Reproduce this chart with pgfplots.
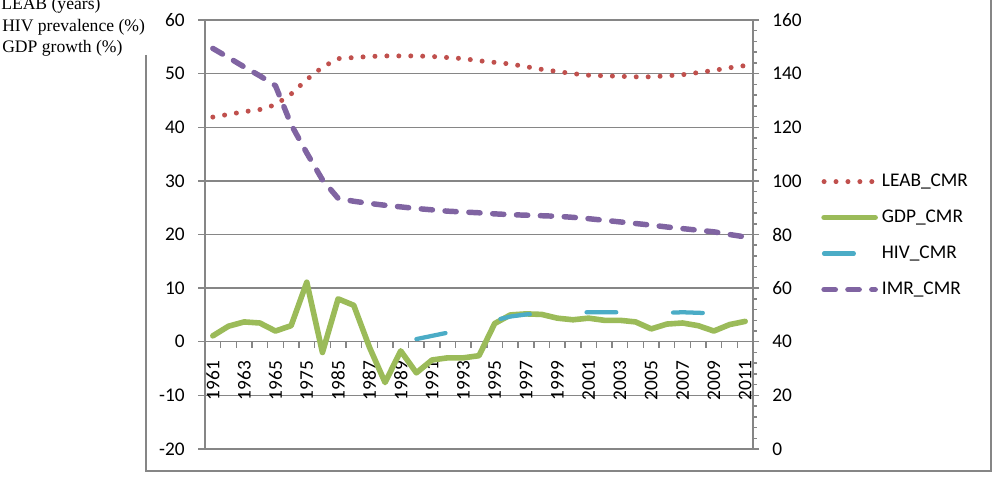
\documentclass[border=0pt]{standalone}
\usepackage{fontspec}
\setmainfont{Carlito}
\newfontfamily\titlefont{Liberation Serif}
\usepackage{pgfplots}
\usepackage{pgfplotstable}
\pgfplotsset{compat=1.18}

\definecolor{leabc}{HTML}{C0504D}
\definecolor{gdpc}{HTML}{9BBB59}
\definecolor{hivc}{HTML}{4BACC6}
\definecolor{imrc}{HTML}{8064A2}
\definecolor{gridc}{RGB}{134,134,134}

\newcommand{\ticksize}{\fontsize{14.5pt}{17pt}\selectfont}

\tikzset{
  leab/.style={draw=leabc, line width=3.75pt, line cap=round, dash pattern=on 0pt off 8.95pt},
  gdp/.style={draw=gdpc, line width=4.2pt, line cap=round, line join=round},
  hiv/.style={draw=hivc, line width=3.2pt, line cap=round, dash pattern=on 22.3pt off 42.6pt},
  imr/.style={draw=imrc, line width=4.1pt, line cap=round, line join=round, dash pattern=on 8.4pt off 9.5pt},
}

% index: 0-4 = 1961-1965, 5 = 1970, 6 = 1975, 7 = 1980, 8-34 = 1985-2011
\pgfplotstableread{
i val
0 41.9
1 42.4
2 42.9
3 43.3
4 44.2
5 46.2
6 48.9
7 51.2
8 52.8
9 53.0
10 53.2
11 53.3
12 53.3
13 53.3
14 53.2
15 53.0
16 52.8
17 52.4
18 52.1
19 51.8
20 51.3
21 50.8
22 50.4
23 50.0
24 49.7
25 49.6
26 49.5
27 49.4
28 49.4
29 49.6
30 49.8
31 50.2
32 50.6
33 51.1
34 51.5
}\leabdata

\pgfplotstableread{
i val
0 1.1
1 2.9
2 3.7
3 3.5
4 2.0
5 3.0
6 11.1
7 -2.0
8 8.0
9 6.8
10 -1.0
11 -7.6
12 -1.7
13 -5.8
14 -3.4
15 -3.0
16 -3.0
17 -2.6
18 3.4
19 5.0
20 5.2
21 5.1
22 4.4
23 4.1
24 4.4
25 4.0
26 4.0
27 3.7
28 2.4
29 3.3
30 3.5
31 3.0
32 2.0
33 3.2
34 3.8
}\gdpdata

\pgfplotstableread{
i val
13 0.5
14 1.1
15 1.7
16 2.4
17 3.2
18 4.0
19 4.7
20 5.1
21 5.2
22 5.4
23 5.5
24 5.5
25 5.5
26 5.5
27 5.5
28 5.4
29 5.4
30 5.5
31 5.4
32 5.3
33 5.2
34 5.1
}\hivdata

\pgfplotstableread{
i val
0 149.4
1 146.0
2 142.5
3 139.2
4 135.5
5 121.0
6 110.4
7 100.4
8 93.5
9 92.4
10 91.6
11 90.9
12 90.3
13 89.7
14 89.2
15 88.7
16 88.4
17 88.1
18 87.7
19 87.4
20 87.2
21 87.0
22 86.8
23 86.4
24 85.9
25 85.3
26 84.7
27 84.1
28 83.5
29 82.8
30 82.2
31 81.6
32 81.0
33 80.0
34 79.1
}\imrdata

\begin{document}
\begin{tikzpicture}
\path[use as bounding box] (0,0) rectangle (751.5pt,367.5pt);

% chart frame
\draw[gridc, line width=1.2pt] (109.5pt,326.25pt) -- (109.5pt,14.25pt) -- (743.25pt,14.25pt) -- (743.25pt,372pt);

% left-hand axis titles
\node[anchor=base west, inner sep=0pt, font=\titlefont\fontsize{13.2pt}{15pt}\selectfont] at (0.75pt,360.4pt) {LEAB (years)};
\node[anchor=base west, inner sep=0pt, font=\titlefont\fontsize{13.2pt}{15pt}\selectfont] at (1.5pt,343.9pt) {HIV prevalence (\%)};
\node[anchor=base west, inner sep=0pt, font=\titlefont\fontsize{13.2pt}{15pt}\selectfont] at (1.5pt,327.75pt) {GDP growth (\%)};

\begin{axis}[
  at={(153.75pt,30.75pt)}, anchor=south west,
  scale only axis, width=411pt, height=321.75pt,
  xmin=-0.5, xmax=34.5, ymin=-20, ymax=60,
  axis x line=middle, axis y line=left,
  axis line style={-, draw=gridc, line width=1.1pt},
  hide obscured x ticks=false, hide obscured y ticks=false,
  xtick={0,2,...,34},
  xticklabels={1961,1963,1965,1975,1985,1987,1989,1991,1993,1995,1997,1999,2001,2003,2005,2007,2009,2011},
  minor xtick={-0.5,0.5,...,34.5},
  major x tick style={draw=none},
  minor x tick style={draw=gridc, line width=1.1pt},
  minor tick length=4.5pt, major tick length=5.25pt,
  tick align=outside,
  ytick={-20,-10,...,60},
  y tick style={draw=gridc, line width=1.1pt},
  ymajorgrids, major grid style={draw=gridc, line width=1.1pt},
  tick label style={font=\ticksize, text=black},
  xticklabel style={yshift=-9pt, rotate=90, anchor=east, inner sep=0pt},
  yticklabel style={xshift=-9.75pt, anchor=east, inner sep=0pt},
  /pgf/number format/assume math mode=true,
  clip=false,
]
\addplot[leab] table[x=i, y=val] {\leabdata};
\addplot[gdp] table[x=i, y=val] {\gdpdata};
\addplot[hiv] table[x=i, y=val] {\hivdata};
\end{axis}

\begin{axis}[
  at={(153.75pt,30.75pt)}, anchor=south west,
  scale only axis, width=411pt, height=321.75pt,
  xmin=-0.5, xmax=34.5, ymin=0, ymax=160,
  axis x line=none, axis y line*=right,
  axis line style={-, draw=gridc, line width=1.1pt},
  ytick={0,20,...,160},
  minor ytick={4,8,...,156},
  tick align=outside,
  major tick length=4.5pt, minor tick length=2.8pt,
  y tick style={draw=gridc, line width=1.1pt},
  tick label style={font=\ticksize, text=black},
  yticklabel style={xshift=9.75pt, anchor=west, inner sep=0pt},
  /pgf/number format/assume math mode=true,
  clip=false,
  legend cell align=left,
  legend style={at={(1.1241,0.6457)}, anchor=north west, draw=none, fill=none,
    inner sep=0pt, row sep=13pt, column sep=3pt, font=\ticksize,
    nodes={inner sep=0pt, text height=10.5pt, text depth=3.5pt, anchor=west}},
  legend image code/.code={\draw[#1] (0pt,0pt) -- (38.3pt,0pt);},
]
\addlegendimage{leab}
\addlegendentry{LEAB\_CMR}
\addlegendimage{gdp}
\addlegendentry{GDP\_CMR}
\addlegendimage{hiv}
\addlegendentry{HIV\_CMR}
\addplot[imr] table[x=i, y=val] {\imrdata};
\addlegendentry{IMR\_CMR}
\end{axis}
\end{tikzpicture}
\end{document}
